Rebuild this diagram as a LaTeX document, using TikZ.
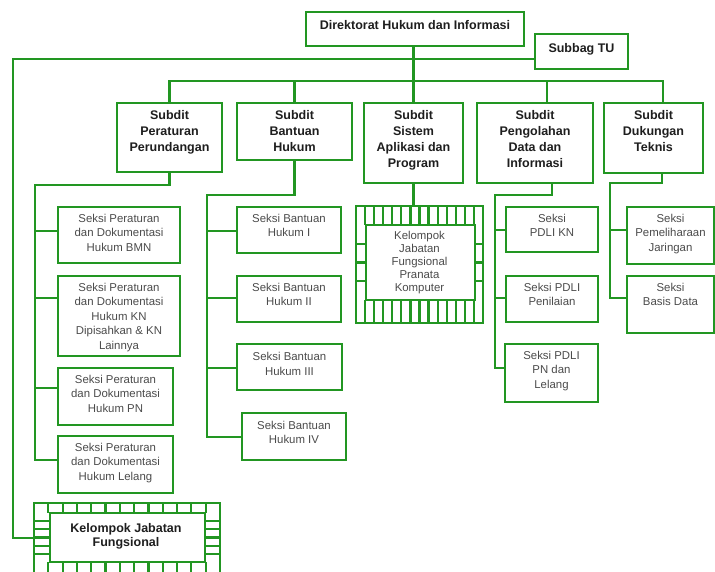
\documentclass[tikz,border=0pt]{standalone}
\usepackage{fontspec}
\setmainfont{Liberation Sans}
\usetikzlibrary{calc}
\definecolor{og}{RGB}{34,150,34}
\definecolor{tg}{RGB}{75,75,75}
\definecolor{tb}{RGB}{30,30,30}
\begin{document}
\begin{tikzpicture}[x=1pt,y=-1pt,
  box/.style={draw=og, line width=2.7pt, fill=white, inner sep=0pt, outer sep=0pt, anchor=north west, rectangle},
  conn/.style={draw=og, line width=2.7pt},
  hatch/.style={draw=og, line width=2.2pt},
  btxt/.style={font=\fontsize{12.5}{16}\selectfont\bfseries, text=tb, align=center, inner sep=0pt, anchor=north},
  stxt/.style={font=\fontsize{11.4}{14.5}\selectfont, text=tg, align=center, inner sep=0pt, anchor=north},
]
\useasboundingbox (0,0) rectangle (715,571);
\fill[white] (0,0) rectangle (715,571);
\clip (0,0) rectangle (715,571);

% ---------- boxes (named) ----------
\node[box, minimum width=218pt, minimum height=34pt] (dir) at (306,12) {};
\node[box, minimum width=93pt, minimum height=35pt] (tu) at (535,34) {};

\node[box, minimum width=105pt, minimum height=69pt] (sp) at (117,103) {};
\node[box, minimum width=115pt, minimum height=57pt] (sb) at (237,103) {};
\node[box, minimum width=99pt, minimum height=80pt] (ss) at (364,103) {};
\node[box, minimum width=116pt, minimum height=80pt] (sd) at (477,103) {};
\node[box, minimum width=99pt, minimum height=70pt] (sk) at (604,103) {};

\node[box, minimum width=122pt, minimum height=56pt] (s1) at (58,207) {};
\node[box, minimum width=122pt, minimum height=80pt] (s2) at (58,276) {};
\node[box, minimum width=115pt, minimum height=57pt] (s3) at (58,368) {};
\node[box, minimum width=115pt, minimum height=57pt] (s4) at (58,436) {};

\node[box, minimum width=104pt, minimum height=46pt] (b1) at (237,207) {};
\node[box, minimum width=104pt, minimum height=46pt] (b2) at (237,276) {};
\node[box, minimum width=105pt, minimum height=46pt] (b3) at (237,344) {};
\node[box, minimum width=104pt, minimum height=47pt] (b4) at (242,413) {};

\node[box, minimum width=127pt, minimum height=117pt] (pr) at (356,206) {};

\node[box, minimum width=92pt, minimum height=45pt] (p1) at (506,207) {};
\node[box, minimum width=92pt, minimum height=46pt] (p2) at (506,276) {};
\node[box, minimum width=93pt, minimum height=58pt] (p3) at (505,344) {};

\node[box, minimum width=87pt, minimum height=57pt] (d1) at (627,207) {};
\node[box, minimum width=87pt, minimum height=57pt] (d2) at (627,276) {};

\node[box, minimum width=186pt, minimum height=90pt] (kj) at (34,503) {};

% ---------- connectors ----------
\coordinate (busR) at (663,81);
\coordinate (busP) at (547,81);
\draw[conn] (dir.south -| ss.north) -- (ss.north);
\draw[conn] (sp.north) |- (busR) -- (busR |- sk.north);
\draw[conn] (sb.north) -- (sb.north |- busR);
\draw[conn] (busP) -- (busP |- sd.north);

\coordinate (lk) at (13,59);
\coordinate (lb) at (13,538);
\draw[conn] (tu.west |- lk) -- (lk) -- (lb) -- (lb -| kj.west);

\coordinate (pk) at (35,185);
\draw[conn] (sp.south) |- (pk) |- ([yshift=-24pt]s4.north west);
\draw[conn] ([yshift=-24pt]s1.north west) -- ++(-23,0);
\draw[conn] ([yshift=-22pt]s2.north west) -- ++(-23,0);
\draw[conn] ([yshift=-20pt]s3.north west) -- ++(-23,0);

\coordinate (bk) at (207,195);
\draw[conn] (sb.south) |- (bk) |- ([yshift=-24pt]b4.north west);
\draw[conn] ([yshift=-24pt]b1.north west) -- ++(-30,0);
\draw[conn] ([yshift=-22pt]b2.north west) -- ++(-30,0);
\draw[conn] ([yshift=-24pt]b3.north west) -- ++(-30,0);

\draw[conn] (ss.south) -- (ss.south |- pr.north);

\coordinate (gt) at (552,0);
\coordinate (gk) at (495,195);
\draw[conn] (sd.south -| gt) |- (gk) |- ([yshift=-24pt]p3.north west);
\draw[conn] ([yshift=-23pt]p1.north west) -- ++(-11,0);
\draw[conn] ([yshift=-22pt]p2.north west) -- ++(-11,0);

\coordinate (dt) at (662,0);
\coordinate (dk) at (610,183);
\draw[conn] (sk.south -| dt) |- (dk) |- ([yshift=-22pt]d2.north west);
\draw[conn] ([yshift=-23pt]d1.north west) -- ++(-17,0);

% redraw box borders over connector ends
\foreach \n in {dir,tu,sp,sb,ss,sd,sk,s1,s2,s3,s4,b1,b2,b3,b4,pr,p1,p2,p3,d1,d2,kj}
  \draw[og, line width=2.7pt] (\n.north west) rectangle (\n.south east);

% ---------- hatched borders ----------
\begin{scope}[hatch]
  \draw (366,225) rectangle (475,300);
  \foreach \i in {1,...,13} {
    \draw ({356+\i*127/14},206) -- ++(0,19);
    \draw ({356+\i*127/14},300) -- ++(0,23);
  }
  \foreach \j in {1,2,3} {
    \draw (356,{225+\j*18.75}) -- ++(10,0);
    \draw (475,{225+\j*18.75}) -- ++(8,0);
  }
  \draw (50,513) rectangle (205,562);
  \foreach \i in {1,...,12} {
    \draw ({34+\i*186/13},503) -- ++(0,10);
    \draw ({34+\i*186/13},562) -- ++(0,31);
  }
  \foreach \j in {1,...,5} {
    \draw (34,{513+\j*49/6}) -- ++(16,0);
    \draw (205,{513+\j*49/6}) -- ++(15,0);
  }
\end{scope}

% ---------- texts ----------
\node[btxt] (dirt) at ([yshift=-8pt]dir.north) {Direktorat Hukum dan Informasi};
\node[btxt] (tut) at ([yshift=-9.5pt]tu.north) {Subbag TU};

\node[btxt] (spt) at ([yshift=-7.4pt]sp.north) {Subdit\\Peraturan\\Perundangan};
\node[btxt] (sbt) at ([yshift=-7.4pt]sb.north) {Subdit\\Bantuan\\Hukum};
\node[btxt] (sst) at ([yshift=-7.4pt]ss.north) {Subdit\\Sistem\\Aplikasi dan\\Program};
\node[btxt] (sdt) at ([yshift=-7.4pt]sd.north) {Subdit\\Pengolahan\\Data dan\\Informasi};
\node[btxt] (skt) at ([yshift=-7.4pt]sk.north) {Subdit\\Dukungan\\Teknis};

\node[stxt] (s1t) at ([yshift=-6.8pt]s1.north) {Seksi Peraturan\\dan Dokumentasi\\Hukum BMN};
\node[stxt] (s2t) at ([yshift=-6.8pt]s2.north) {Seksi Peraturan\\dan Dokumentasi\\Hukum KN\\Dipisahkan \& KN\\Lainnya};
\node[stxt] (s3t) at ([yshift=-6.8pt]s3.north) {Seksi Peraturan\\dan Dokumentasi\\Hukum PN};
\node[stxt] (s4t) at ([yshift=-6.8pt]s4.north) {Seksi Peraturan\\dan Dokumentasi\\Hukum Lelang};

\node[stxt] (b1t) at ([yshift=-6.8pt]b1.north) {Seksi Bantuan\\Hukum I};
\node[stxt] (b2t) at ([yshift=-6.8pt]b2.north) {Seksi Bantuan\\Hukum II};
\node[stxt] (b3t) at ([yshift=-8.5pt]b3.north) {Seksi Bantuan\\Hukum III};
\node[stxt] (b4t) at ([yshift=-7.8pt]b4.north) {Seksi Bantuan\\Hukum IV};

\node[stxt, anchor=center, font=\fontsize{11.4}{13}\selectfont] (prt) at (419.5,263) {Kelompok\\Jabatan\\Fungsional\\Pranata\\Komputer};

\node[stxt] (p1t) at ([yshift=-6.8pt]p1.north) {Seksi\\PDLI KN};
\node[stxt] (p2t) at ([yshift=-6.8pt]p2.north) {Seksi PDLI\\Penilaian};
\node[stxt] (p3t) at ([yshift=-6.8pt]p3.north) {Seksi PDLI\\PN dan\\Lelang};

\node[stxt] (d1t) at ([yshift=-6.8pt]d1.north) {Seksi\\Pemeliharaan\\Jaringan};
\node[stxt] (d2t) at ([yshift=-6.8pt]d2.north) {Seksi\\Basis Data};

\node[btxt, anchor=center, font=\fontsize{12.5}{13.5}\selectfont\bfseries] (kjt) at (126,536.5) {Kelompok Jabatan\\Fungsional};
\end{tikzpicture}
\end{document}
